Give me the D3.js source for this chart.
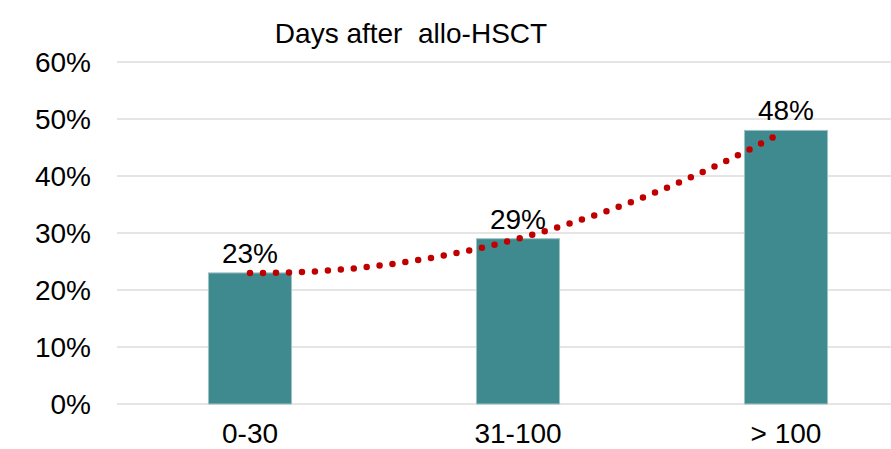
<!DOCTYPE html>
<html><head><meta charset="utf-8">
<script src="https://cdn.jsdelivr.net/npm/d3@7"></script>
<style>body{margin:0;background:#fff}svg{display:block}text{font-family:"Liberation Sans",Arial,sans-serif;fill:#000}</style>
</head><body><svg id="c" width="891" height="449"></svg>
<script>
const categories = ["0-30", "31-100", "> 100"];
const values = [0.23, 0.29, 0.48];
const valueLabels = ["23%", "29%", "48%"];
const yTicks = [0, 0.1, 0.2, 0.3, 0.4, 0.5, 0.6];
const title = "Days after\u00a0 allo-HSCT";

const svg = d3.select("#c");
const x = d3.scaleBand().domain(categories).range([116, 920]).paddingInner(0.69).paddingOuter(0.345);
const y = d3.scaleLinear().domain([0, 0.6]).range([404, 62]);
const fs = 28;

// gridlines
svg.append("g").selectAll("line").data(yTicks).join("line")
  .attr("x1", 117).attr("x2", 891)
  .attr("y1", d => y(d)).attr("y2", d => y(d))
  .attr("stroke", "#dcdcdc").attr("stroke-width", 1.5);

// y axis labels
const yAxis = d3.axisLeft(y).tickValues(yTicks).tickFormat(d3.format(".0%")).tickSize(0).tickPadding(0);
const ya = svg.append("g").attr("transform", "translate(91,0)").call(yAxis);
ya.select(".domain").remove();
ya.selectAll("text").style("font-size", fs + "px").attr("font-family", null).attr("dy", "0.35em");

// bars
svg.append("g").selectAll("rect").data(values).join("rect")
  .attr("x", (d, i) => x(categories[i]))
  .attr("width", x.bandwidth())
  .attr("y", d => y(d))
  .attr("height", d => y(0) - y(d))
  .attr("fill", "#3e8a8f")
  .attr("stroke", "#9fc1c4").attr("stroke-width", 1);

// x axis labels
const xAxis = d3.axisBottom(x).tickSize(0).tickPadding(0);
const xa = svg.append("g").attr("transform", "translate(0,433)").call(xAxis);
xa.select(".domain").remove();
xa.selectAll("text").style("font-size", fs + "px").attr("font-family", null).attr("dy", "0.35em");

// value labels
svg.append("g").selectAll("text").data(values).join("text")
  .attr("x", (d, i) => x(categories[i]) + x.bandwidth() / 2)
  .attr("y", d => y(d) - 20)
  .attr("dy", "0.35em")
  .attr("text-anchor", "middle")
  .style("font-size", fs + "px")
  .text((d, i) => valueLabels[i]);

// polynomial (order 2) trendline fitted to the values
const n = values.length;
const xs = values.map((d, i) => i + 1);
function poly(t) {
  let s = 0;
  for (let i = 0; i < n; i++) {
    let l = 1;
    for (let j = 0; j < n; j++) if (j !== i) l *= (t - xs[j]) / (xs[i] - xs[j]);
    s += values[i] * l;
  }
  return s;
}
const step = x.step();
const cx = t => x(categories[0]) + x.bandwidth() / 2 + (t - 1) * step;
const pts = d3.range(1, 2.96, 0.01).map(t => [cx(t), y(poly(t))]);
const tr = svg.append("path").attr("d", d3.line()(pts))
  .attr("fill", "none").attr("stroke", "#c00000").attr("stroke-width", 6.5)
  .attr("stroke-linecap", "round");
const L = tr.node().getTotalLength();
const gap = L / Math.round(L / 13);
tr.attr("stroke-dasharray", "0 " + gap);

// title
svg.append("text").attr("x", 411).attr("y", 33).attr("dy", "0.35em")
  .attr("text-anchor", "middle").style("font-size", fs + "px").text(title);
</script></body></html>
